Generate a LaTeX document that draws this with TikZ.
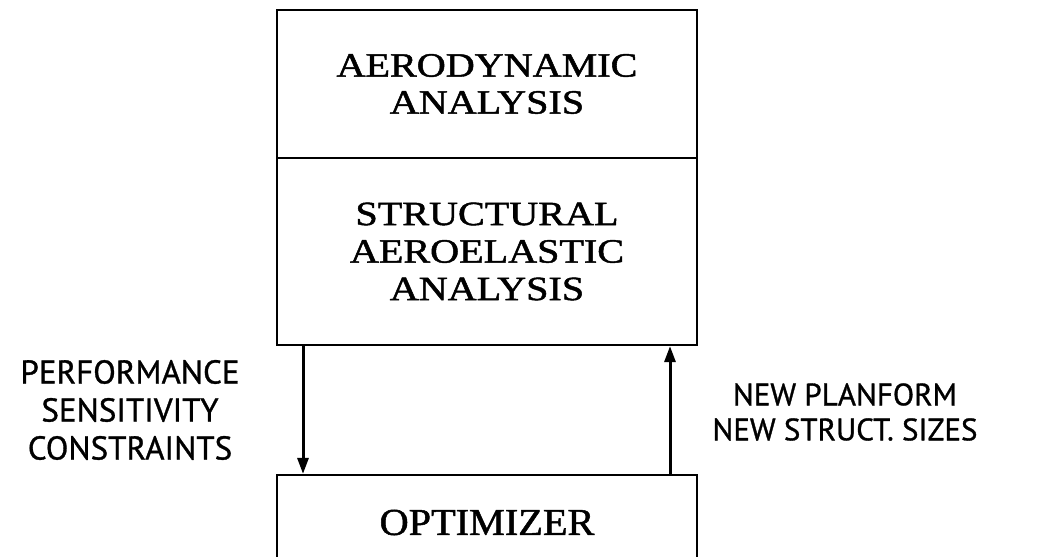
\documentclass[tikz,border=0pt]{standalone}
\usepackage{fontspec}
\usepackage{graphicx}
\usetikzlibrary{arrows.meta}
\newfontfamily\boxfont{Liberation Serif}[FakeBold=1.3]
\newfontfamily\lblfont{PT Sans}[FakeBold=1.0]
\newcommand{\widetxt}[1]{\scalebox{1.18}[1]{#1}}
\tikzset{
  blockbox/.style={draw, line width=2.2pt, minimum width=420pt, inner sep=0pt, align=center,
    font=\boxfont\fontsize{34}{37}\selectfont},
  lbl/.style={align=center, inner sep=0pt, font=\lblfont\fontsize{33}{38}\selectfont},
  rlbl/.style={align=center, inner sep=0pt, font=\lblfont\fontsize{31}{35}\selectfont},
  flow/.style={line width=3pt, -{Triangle[length=16pt,width=11pt]}}
}
\begin{document}
\begin{tikzpicture}[x=1pt,y=-1pt]
\useasboundingbox (0,0) rectangle (1037,557);
\clip (0,0) rectangle (1037,557);
\node[blockbox, minimum height=148pt] (aero) at (487,84)
  {\widetxt{AERODYNAMIC}\\\widetxt{ANALYSIS}};
\node[blockbox, minimum height=187pt, font=\boxfont\fontsize{34}{37.5}\selectfont] (struct) at (487,251.5)
  {\widetxt{STRUCTURAL}\\\widetxt{AEROELASTIC}\\\widetxt{ANALYSIS}};
\node[blockbox, minimum height=95pt, font=\boxfont\fontsize{38}{40}\selectfont] (opt) at (487,522.5)
  {\scalebox{1.06}[1]{OPTIMIZER}};
\coordinate (lx) at (303,0);
\coordinate (rx) at (670,0);
\draw[flow] (struct.south -| lx) -- (opt.north -| lx);
\draw[flow] (opt.north -| rx) -- (struct.south -| rx);
\node[lbl] (perf) at (130,410) {PERFORMANCE\\SENSITIVITY\\CONSTRAINTS};
\node[rlbl] (newp) at (845,412) {NEW PLANFORM\\NEW STRUCT. SIZES};
\end{tikzpicture}
\end{document}
